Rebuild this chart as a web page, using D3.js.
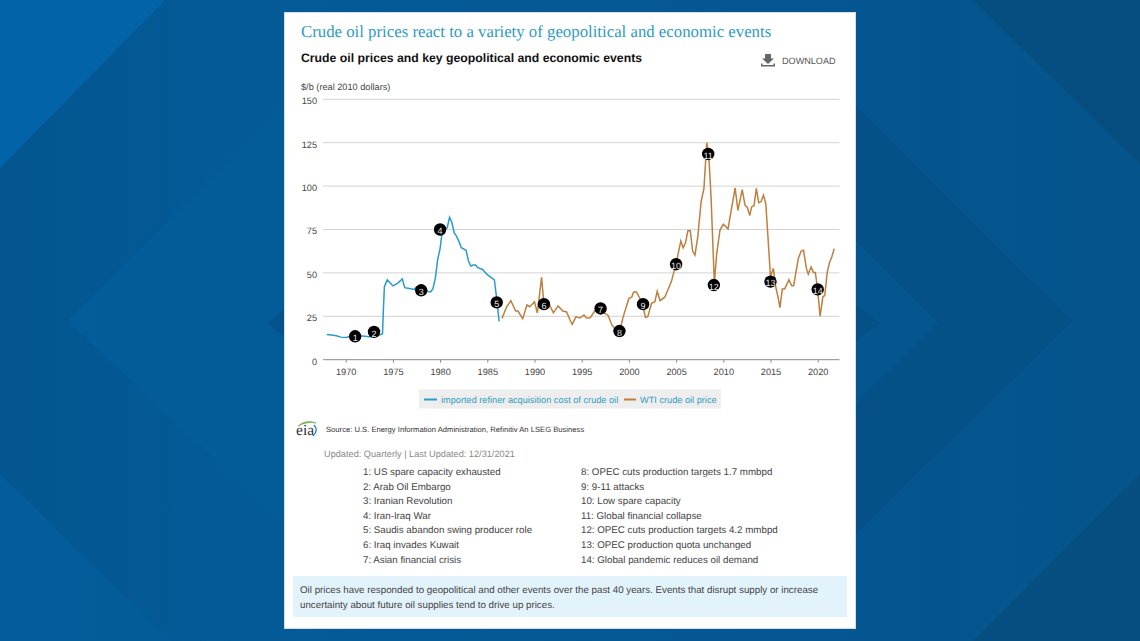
<!DOCTYPE html>
<html><head><meta charset="utf-8">
<script src="https://cdn.jsdelivr.net/npm/d3@7/dist/d3.min.js"></script>
<style>html,body{margin:0;padding:0;background:#045a98;overflow:hidden}svg{display:block}text{font-family:"Liberation Sans",Arial,sans-serif;text-rendering:geometricPrecision}</style>
</head><body><svg id="c" width="1140" height="641"></svg>
<script>
const yTicks=[0,25,50,75,100,125,150];
const xTicks=[1970,1975,1980,1985,1990,1995,2000,2005,2010,2015,2020];
const racYears=[1968,1968.5,1969,1969.5,1970,1970.5,1971,1971.5,1972,1972.5,1973,1973.5,1973.9,1974,1974.1,1974.4,1974.75,1975,1975.5,1976,1976.25,1976.75,1977.25,1977.5,1978,1978.5,1979,1979.25,1979.5,1979.75,1980,1980.25,1980.5,1980.75,1981,1981.25,1981.5,1981.75,1982,1982.25,1982.75,1983,1983.25,1983.5,1983.75,1984,1984.5,1985,1985.25,1985.75,1986,1986.25];
const racValues=[14.5,14.2,13.8,13,12.8,13.3,13.5,13.8,13.5,13.2,13.3,14,15,30,42,46,44,42.5,44,46.5,41.5,41,40.5,42,41.5,39.5,39,41,47,58,64,75,75,76,82,79,73,71,68,64.5,63,57,54,54.5,54.5,53,52,49,48,46,35,22];
const wtiYears=[1986.56,1987.05,1987.5,1988,1988.25,1988.75,1989.2,1989.5,1990,1990.3,1990.75,1991,1991.5,1992,1992.5,1993,1993.4,1993.75,1994,1994.4,1994.8,1995.25,1995.5,1995.9,1996.4,1996.9,1997.8,1998.2,1998.5,1999,1999.4,2000,2000.3,2000.5,2000.8,2001.2,2001.5,2001.75,2002,2002.4,2002.75,2003,2003.3,2003.8,2004.5,2005,2005.5,2005.75,2006,2006.25,2006.5,2006.75,2007,2007.3,2007.65,2007.95,2008.25,2008.45,2008.7,2009,2009.05,2009.3,2009.65,2010,2010.5,2011.25,2011.55,2012,2012.3,2012.55,2012.8,2013,2013.25,2013.5,2013.75,2014,2014.25,2014.5,2014.75,2015,2015.3,2015.55,2015.8,2016,2016.25,2016.5,2016.95,2017.25,2017.45,2017.95,2018.25,2018.5,2018.8,2019,2019.3,2019.55,2019.75,2020,2020.25,2020.55,2020.75,2021,2021.25,2021.5,2021.75];
const wtiValues=[23.8,30.5,34,28,28,23.6,31.5,30.5,33.4,27,47.4,32,32.5,27,31,28,27.5,23,20.4,24.8,24,25.7,24,24.2,28.2,28.6,25.5,20,18,16,24.8,35.3,36,39,39,35,30.5,24.4,24.8,32.5,33.4,39.5,34,36,45,55.5,68.4,64.5,67.4,74.3,74.3,62.6,60.3,71,91,98.7,125,118.8,94,51.6,44,61,74.7,78,75.3,99,86,98,89,87.7,83,88,88.7,98.7,90.4,91,94.8,90,69,47.8,52.6,42,36,30,40.7,40.7,46,42.6,42.6,58.4,62.6,63,52.6,49.3,53.4,50.3,50.3,40,25,36.3,37,50,56,59.3,64];
const eventIds=[1,2,3,4,5,6,7,8,9,10,11,12,13,14];
const eventYears=[1971,1973,1978,1980,1986,1991,1997,1999,2001.5,2005,2008.4,2009,2015,2020];
const eventValues=[13.5,16,40,75,33,32,29.5,16.5,32,55,118.5,43,45,40.5];
const eventNames=["US spare capacity exhausted","Arab Oil Embargo","Iranian Revolution","Iran-Iraq War","Saudis abandon swing producer role","Iraq invades Kuwait","Asian financial crisis","OPEC cuts production targets 1.7 mmbpd","9-11 attacks","Low spare capacity","Global financial collapse","OPEC cuts production targets 4.2 mmbpd","OPEC production quota unchanged","Global pandemic reduces oil demand"];

const svg=d3.select("#c");
// background
const defs=svg.append("defs");
const g=defs.append("linearGradient").attr("id","bg").attr("x1",0).attr("y1",0).attr("x2",1).attr("y2",0);
g.append("stop").attr("offset",0).attr("stop-color","#035d9c");
g.append("stop").attr("offset",1).attr("stop-color","#05548c");
const f=defs.append("linearGradient").attr("id","fade").attr("gradientUnits","userSpaceOnUse").attr("x1",0).attr("y1",0).attr("x2",300).attr("y2",0);
f.append("stop").attr("offset",0).attr("stop-color","#03568f").attr("stop-opacity",1);
f.append("stop").attr("offset",1).attr("stop-color","#03568f").attr("stop-opacity",0);
svg.append("rect").attr("width",1140).attr("height",641).attr("fill","url(#bg)");
const bgShapes=[
 ["M0,168 L165,0 L390,0 L68,321 L410,641 L170,641 L0,474Z","url(#fade)"],
 ["M0,0 L165,0 L0,168Z","#0363a8"],
 ["M268,323 L290,304 L290,342Z","#04528a"],
 ["M973,0 L1140,0 L1140,164Z","#064e80"],
 ["M1140,474 L1140,641 L973,641Z","#064e80"],
 ["M850,100 L1072,321 L850,540Z","#055087"],
 ["M850,235 L938,323 L850,410Z","#05568f"],
 ["M880,323 L850,300 L850,346Z","#055087"]];
svg.selectAll("path.bg").data(bgShapes).join("path").attr("class","bg").attr("d",d=>d[0]).attr("fill",d=>d[1]);
// card
svg.append("rect").attr("x",284.5).attr("y",12.5).attr("width",571).attr("height",616).attr("fill","#fff").attr("stroke","#d5dde2");

const T=(x,y,s,size,fill,opt={})=>{const t=svg.append("text").attr("x",x).attr("y",y).text(s).attr("font-size",size).attr("fill",fill);
 if(opt.weight)t.attr("font-weight",opt.weight);if(opt.family)t.style("font-family",opt.family);if(opt.anchor)t.attr("text-anchor",opt.anchor);return t;};
T(301,37,"Crude oil prices react to a variety of geopolitical and economic events",16.8,"#2f9cc2",{family:'"Liberation Serif",serif'});
T(301,61.5,"Crude oil prices and key geopolitical and economic events",12.25,"#111",{weight:"bold"});
T(782,64,"DOWNLOAD",9.1,"#555");
svg.append("path").attr("d","M765,54h6v4.5h3l-6,5.5l-6,-5.5h3zM761,63.5h1.5v1.5h11v-1.5h1.5v3h-14z").attr("fill","#666");
T(301,90,"$/b (real 2010 dollars)",9.2,"#444");

const x=d3.scaleLinear().domain([1970,2020]).range([345.7,817.7]);
const y=d3.scaleLinear().domain([0,150]).range([359.7,99.3]);
// grid & axes
const yAxis=svg.append("g").attr("transform","translate(323,1.5)").call(d3.axisLeft(y).tickValues(yTicks).tickSize(0).tickPadding(6));
yAxis.select(".domain").remove();
yAxis.selectAll("text").attr("font-size",9.2).attr("fill","#444").style("font-family",'"Liberation Sans",Arial,sans-serif').attr("x",-6);
svg.append("g").selectAll("line").data(yTicks.slice(1)).join("line").attr("x1",323).attr("x2",839.5).attr("y1",d=>y(d)).attr("y2",d=>y(d)).attr("stroke","#d3d3d3").attr("stroke-width",1);
const xAxis=svg.append("g").attr("transform","translate(0,359.7)").call(d3.axisBottom(x).tickValues(xTicks).tickFormat(d3.format("d")).tickSize(3).tickPadding(6));
xAxis.select(".domain").attr("d","M323,0H839.5").attr("stroke","#8a8a8a");
xAxis.selectAll("line").attr("stroke","#8a8a8a");
xAxis.selectAll("text").attr("font-size",9.2).attr("fill","#444").style("font-family",'"Liberation Sans",Arial,sans-serif');
// lines
const line=d3.line().x(d=>x(d[0])).y(d=>y(d[1]));
svg.append("path").attr("d",line(d3.zip(racYears,racValues))).attr("fill","none").attr("stroke","#2a9bcb").attr("stroke-width",1.5);
svg.append("path").attr("d",line(d3.zip(wtiYears,wtiValues))).attr("fill","none").attr("stroke","#bd803f").attr("stroke-width",1.5);
// events
const ev=svg.append("g").selectAll("g").data(eventIds).join("g").attr("transform",(d,i)=>`translate(${x(eventYears[i])},${y(eventValues[i])})`);
ev.append("circle").attr("r",6.2).attr("fill","#000");
ev.append("text").attr("y",4.8).attr("text-anchor","middle").attr("font-size",9).attr("fill","#e8e8e8").text(d=>d);
// legend
svg.append("rect").attr("x",419).attr("y",389.5).attr("width",302).attr("height",19).attr("fill","#eeeeee");
svg.append("line").attr("x1",424).attr("x2",437).attr("y1",399.5).attr("y2",399.5).attr("stroke","#2a9bcb").attr("stroke-width",2);
T(441,403,"imported refiner acquisition cost of crude oil",9.2,"#2f9cc2");
svg.append("line").attr("x1",624).attr("x2",636).attr("y1",399.5).attr("y2",399.5).attr("stroke","#bd803f").attr("stroke-width",2);
T(640,403,"WTI crude oil price",9.2,"#2f9cc2");
// eia logo
T(296,435,"eia",15.5,"#333",{family:'"Liberation Serif",serif'});
svg.append("path").attr("d","M298,426 Q306,419 316,423 Q307,421 298,426Z").attr("fill","#79b15a").attr("stroke","#79b15a").attr("stroke-width",.7);
svg.append("path").attr("d","M314,425 Q319,430 313,436").attr("fill","none").attr("stroke","#2a7fb8").attr("stroke-width",1.3);
T(326,432,"Source: U.S. Energy Information Administration, Refinitiv An LSEG Business",7.65,"#333");
T(324,457,"Updated: Quarterly | Last Updated: 12/31/2021",9.2,"#888");
// event list
eventNames.forEach((n,i)=>{const col=i<7?363:581,row=i<7?i:i-7;T(col,475+row*14.6,`${i+1}: ${n}`,9.75,"#444");});
// note
svg.append("rect").attr("x",293).attr("y",576).attr("width",554).attr("height",41).attr("fill","#e3f3fb");
T(300,593,"Oil prices have responded to geopolitical and other events over the past 40 years. Events that disrupt supply or increase",9.75,"#444");
T(300,608,"uncertainty about future oil supplies tend to drive up prices.",9.75,"#444");
</script></body></html>
